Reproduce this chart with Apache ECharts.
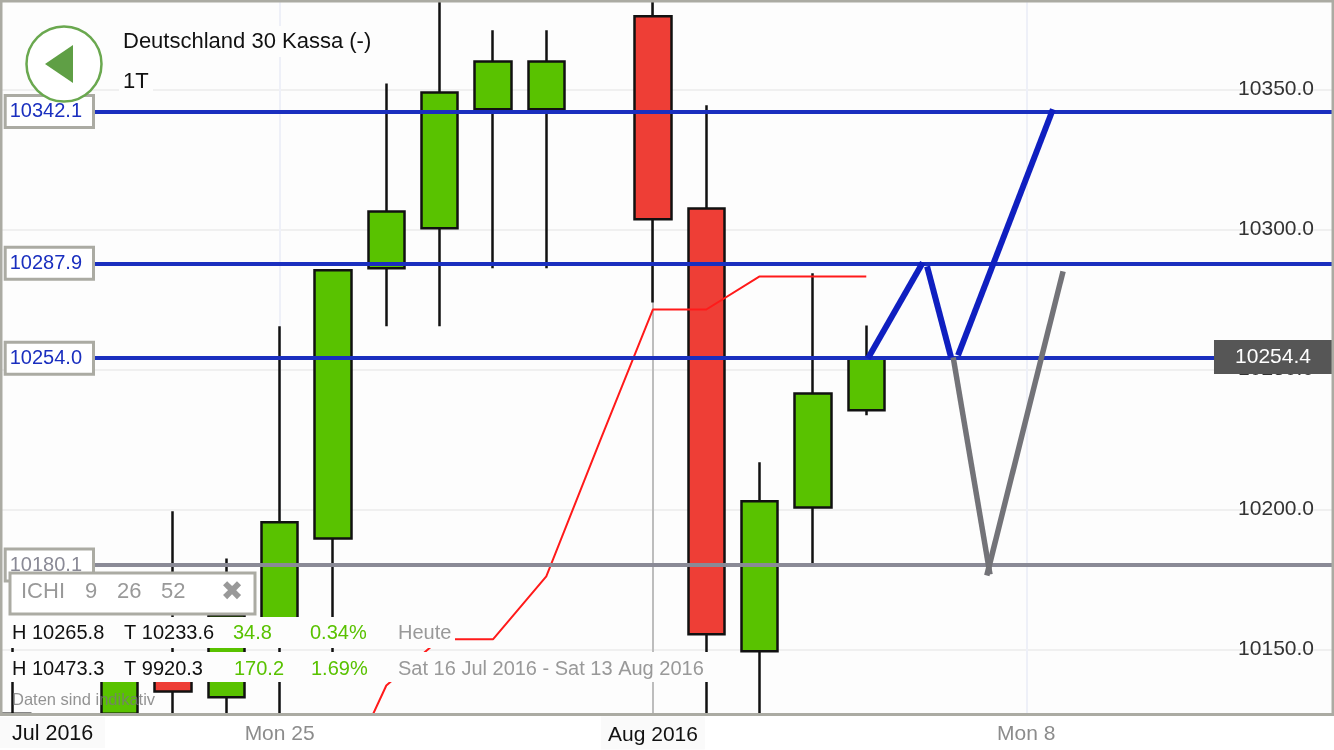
<!DOCTYPE html>
<html><head><meta charset="utf-8">
<style>html,body{margin:0;padding:0;background:#fff}#c{width:1334px;height:750px}</style>
<script src="https://cdn.jsdelivr.net/npm/echarts@6/dist/echarts.min.js"></script>
</head><body><div id="c"></div>
<script>
// x values are day numbers, day 12 = 1 Aug 2016
const xTickValues=[5,12,19];
const xTickLabels={5:'Mon 25',12:'Aug 2016',19:'Mon 8'};
const dayIndex=[0,2,3,4,5,6,7,8,9,10,12,13,14,15,16];
// open, close, low, high (values beyond the visible range are held at its edge)
const opens =[10127.0,10127.0,10140.7,10132.9,10156.8,10189.6,10286.1,10300.4,10342.9,10342.9,10376.1,10307.5,10149.3,10200.7,10235.4];
const closes=[10127.0,10142.5,10135.0,10162.1,10195.4,10285.4,10306.4,10348.9,10360.0,10360.0,10303.6,10155.4,10202.9,10241.4,10253.9];
const lows  =[10127.0,10127.0,10127.0,10127.0,10127.0,10144.3,10265.4,10265.4,10286.1,10286.1,10273.9,10127.0,10127.0,10180.7,10233.6];
const highs =[10153.2,10142.5,10199.3,10182.5,10265.4,10285.4,10352.1,10381.7,10371.1,10371.1,10381.7,10344.3,10216.8,10284.3,10265.7];
const candles=dayIndex.map((d,i)=>[d,opens[i],closes[i],lows[i],highs[i]]);
const ichiDays=[6,7,8,9,10,11,12,13,14,15,16];
const ichiVals=[10096,10137.1,10153.6,10153.6,10176.1,10224.1,10271.4,10271.4,10283.2,10283.2,10283.2];
const levelLines=[{v:10342.1,c:'#1a2fbf'},{v:10287.9,c:'#1a2fbf'},{v:10254.0,c:'#1a2fbf'},{v:10180.1,c:'#8a8a96'}];
const blueTrends=[[[16.03,10253.9],[17.06,10288.2]],[[17.14,10286.8],[17.59,10254.3]],[[17.72,10255.0],[19.50,10342.9]]];
const greyTrends=[[[17.63,10254.3],[18.32,10176.8]],[[18.26,10176.4],[19.69,10285.0]]];
const lastPrice=10254.4;
const yTicks=[10150,10200,10250,10300,10350];
const vGrid=[{x:5,c:'#eef0f8'},{x:12,c:'#bdbdbd'},{x:19,c:'#eef0f8'}];
const FONT='"Liberation Sans",Arial,sans-serif';
const PB='#fdfdfd';
const rect=(x,y,w,h,fill,extra)=>Object.assign({type:'rect',shape:{x,y,width:w,height:h},style:{fill},z:100},extra||{});
const txt=(x,y,t,size,fill,extra)=>Object.assign({type:'text',x,y,z:101,style:{text:t,font:size+'px '+FONT,fill,textVerticalAlign:'middle',textAlign:'left'}},extra||{});
const GREEN='#59c200';
const chart=echarts.init(document.getElementById('c'),null,{renderer:'canvas'});
const xIdx=px=>(px-13)/53.33;
chart.setOption({
 animation:false,backgroundColor:'#fff',
 grid:{left:0,top:0.4,width:1334,height:714,show:true,backgroundColor:PB,borderWidth:0},
 xAxis:{type:'value',min:-0.2438,max:24.7705,axisLine:{show:false},axisTick:{show:false,customValues:xTickValues},splitLine:{show:false},
   axisLabel:{margin:2,customValues:xTickValues,showMinLabel:true,showMaxLabel:true,fontFamily:FONT,fontSize:21,hideOverlap:false,color:'#8c8c8c',
     formatter:v=>{const l=xTickLabels[Math.round(v)];if(!l)return '';return (l==='Aug 2016'?'{b|':'{g|')+l+'}';},
     rich:{b:{color:'#111',fontFamily:FONT,fontSize:21,backgroundColor:'#fafafa',padding:[8,7,4,7]},
           g:{color:'#8c8c8c',fontFamily:FONT,fontSize:21,padding:[7,0,0,0]}}}},
 yAxis:{type:'value',position:'right',min:10126.786,max:10381.786,
   axisLine:{show:false},axisTick:{show:false,customValues:yTicks},
   splitLine:{show:true,lineStyle:{color:'#f0f0f0',width:2}},
   axisLabel:{inside:true,margin:20,padding:[7,0,0,0],customValues:yTicks,fontFamily:FONT,fontSize:21,color:'#333',formatter:v=>v.toFixed(1)}},
 series:[
  {type:'line',data:[],z:1,silent:true,
   markLine:{z:1,silent:true,symbol:'none',animation:false,label:{show:false},
     data:vGrid.map(g=>({xAxis:g.x,lineStyle:{color:g.c,width:2,type:'solid'}}))}},
  {type:'candlestick',data:candles,encode:{x:0,y:[1,2,3,4]},barWidth:37,z:2,silent:true,
   itemStyle:{color:GREEN,color0:'#ee3e36',borderColor:'#111',borderColor0:'#111',borderWidth:2.5}},
  {type:'line',data:ichiDays.map((d,i)=>[d,ichiVals[i]]),z:3,symbol:'none',silent:true,lineStyle:{color:'#ff1a1a',width:2}},
  {type:'line',data:[],z:4,silent:true,
   markLine:{z:4,silent:true,symbol:'none',animation:false,
     data:levelLines.map(l=>[{coord:[xIdx(92),l.v],lineStyle:{color:l.c,width:4,type:'solid'},
        label:{show:true,position:'start',distance:0,formatter:l.v.toFixed(1),color:l.c,fontFamily:FONT,fontSize:20,
          backgroundColor:'#fff',borderColor:'#ababa3',borderWidth:3,padding:[7,10,2,3]}},{coord:[24.77,l.v]}])}},
  ...greyTrends.map(t=>({type:'line',data:t,z:5,symbol:'none',silent:true,lineStyle:{color:'#737378',width:5.5,cap:'butt'}})),
  ...blueTrends.map(t=>({type:'line',data:t,z:5,symbol:'none',silent:true,lineStyle:{color:'#0f1fc0',width:6,cap:'butt'}})),
  {type:'line',data:[],z:6,silent:true,
   markPoint:{z:6,silent:true,animation:false,symbol:'rect',symbolSize:[118,34],itemStyle:{color:'#565656'},
     data:[{coord:[xIdx(1273),lastPrice],value:lastPrice,label:{show:true,position:'inside',formatter:lastPrice.toFixed(1),color:'#fff',fontFamily:FONT,fontSize:21}}]}}
 ],
 graphic:{z:50,elements:[
  rect(120,26,255,31,PB),rect(119,65,34,30,PB),
  rect(1,1,1332,713.5,'none',{style:{fill:'none',stroke:'#ababa3',lineWidth:3}}),
  {type:'circle',shape:{cx:64,cy:64,r:37.5},style:{fill:'#fff',stroke:'#6aa84f',lineWidth:2.5},z:102},
  {type:'polygon',shape:{points:[[45,64],[73,45],[73,83]]},style:{fill:'#5f9f45'},z:103},
  txt(123,42,'Deutschland 30 Kassa (-)',22,'#111'),
  txt(123,82,'1T',22,'#111'),
  rect(3,617,452,31,PB),rect(3,652,705,30,PB),
  rect(10,573,245,41,'#fff',{style:{fill:'#fff',stroke:'#ababa3',lineWidth:3}}),
  txt(21,592,'ICHI',22,'#999'),txt(85,592,'9',22,'#999'),txt(117,592,'26',22,'#999'),txt(161,592,'52',22,'#999'),
  txt(232,593,'✖',27,'#999',{style:{text:'✖',font:'27px "DejaVu Sans"',fill:'#999',textAlign:'center',textVerticalAlign:'middle'}}),
  txt(12,633,'H 10265.8',20,'#111'),txt(124,633,'T 10233.6',20,'#111'),txt(233,633,'34.8',20,GREEN),txt(310,633,'0.34%',20,GREEN),txt(398,633,'Heute',20,'#999'),
  txt(12,669,'H 10473.3',20,'#111'),txt(124,669,'T 9920.3',20,'#111'),txt(234,669,'170.2',20,GREEN),txt(311,669,'1.69%',20,GREEN),txt(398,669,'Sat 16 Jul 2016 - Sat 13 Aug 2016',20,'#999'),
  txt(12,700,'Daten sind indikativ',16.5,'rgba(120,120,120,0.8)'),
  rect(0,717,105,31,'#fafafa'),txt(12,734,'Jul 2016',21.5,'#111')
 ]}
});
</script></body></html>
